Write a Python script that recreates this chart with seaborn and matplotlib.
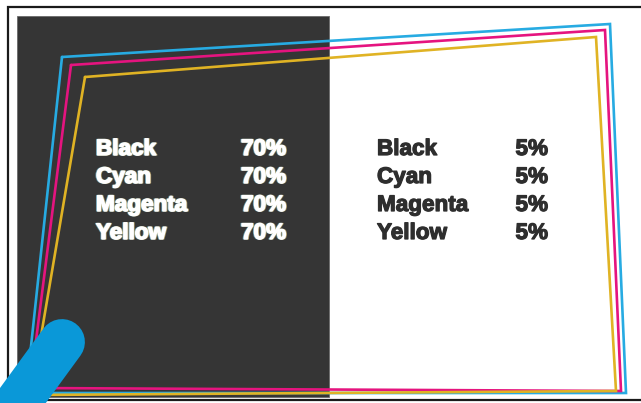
import numpy as np
import pandas as pd
import matplotlib
matplotlib.use("Agg")
import matplotlib.pyplot as plt
import matplotlib.patheffects as pe
import seaborn as sns

# ---- data ----
inks = ["Cyan", "Magenta", "Yellow"]
ink_colors = ["#27ABE2", "#E5147F", "#E0B324"]
# quadrilateral corners for each plate (TL, TR, BR, BL), canvas pixel units
cyan_x = [62, 610, 626, 26]
cyan_y = [57, 24, 393, 393]
magenta_x = [71, 605, 621, 30]
magenta_y = [65, 30, 391, 388]
yellow_x = [85, 596, 616, 31]
yellow_y = [77, 37, 391, 395]

labels = ["Black", "Cyan", "Magenta", "Yellow"]
dark_values = ["70%", "70%", "70%", "70%"]
light_values = ["5%", "5%", "5%", "5%"]

W, H = 641, 403

sns.set_theme(style="white")
plt.rcParams['font.family'] = ['Liberation Sans', 'DejaVu Sans']

fig = plt.figure(figsize=(W / 100, H / 100), dpi=100)
ax = fig.add_axes([0, 0, 1, 1])

# outer frame
ax.plot([W, 8, 8, W], [7, 7, 400, 400], color="#1a1a1a", lw=1.6, solid_joinstyle="miter")

# dark half
ax.add_patch(plt.Rectangle((17, 16), 312, 381, facecolor="#353535",
                           edgecolor="#6a6a6a", lw=0.6, zorder=1))

# plates
rows = []
for name, xs, ys in [("Cyan", cyan_x, cyan_y), ("Magenta", magenta_x, magenta_y),
                     ("Yellow", yellow_x, yellow_y)]:
    xs2 = xs + xs[:1]
    ys2 = ys + ys[:1]
    for i, (x, y) in enumerate(zip(xs2, ys2)):
        rows.append({"x": x, "y": y, "ink": name, "order": i})
df = pd.DataFrame(rows)
sns.lineplot(data=df, x="x", y="y", hue="ink", hue_order=inks,
             palette=dict(zip(inks, ink_colors)), sort=False, estimator=None,
             lw=1.9, legend=False, ax=ax, zorder=3)
for line in ax.lines[1:]:
    line.set_solid_joinstyle("miter")
ax.set_xlim(0, W)
ax.set_ylim(H, 0)
ax.axis("off")

# blue smudge
ax.plot([62, 5], [342, 420], color="#0A98D8", lw=33, solid_capstyle="round", zorder=4)

# text
fs = 16.2
base_y = [155, 183, 211, 239]

def fx(col, fringe):
    effects = []
    if fringe:
        effects += [pe.Stroke(offset=(-0.6, 0), linewidth=1.0, foreground="#7fd0f0", alpha=0.6),
                    pe.Stroke(offset=(0.6, 0), linewidth=1.0, foreground="#f0d080", alpha=0.6)]
    effects += [pe.Stroke(linewidth=0.9, foreground=col), pe.Normal()]
    return effects

for lab, v, y in zip(labels, dark_values, base_y):
    ax.text(96, y, lab, color="white", fontsize=fs, fontweight="bold", va="baseline", ha="left", zorder=6,
            path_effects=fx("white", True))
    ax.text(286, y, v, color="white", fontsize=fs, fontweight="bold", va="baseline", ha="right", zorder=6,
            path_effects=fx("white", True))
for lab, v, y in zip(labels, light_values, base_y):
    ax.text(377, y, lab, color="#2e2e2e", fontsize=fs, fontweight="bold", va="baseline", ha="left", zorder=5,
            path_effects=fx("#2e2e2e", False))
    ax.text(548, y, v, color="#2e2e2e", fontsize=fs, fontweight="bold", va="baseline", ha="right", zorder=5,
            path_effects=fx("#2e2e2e", False))

fig.savefig("out.png", dpi=100)
